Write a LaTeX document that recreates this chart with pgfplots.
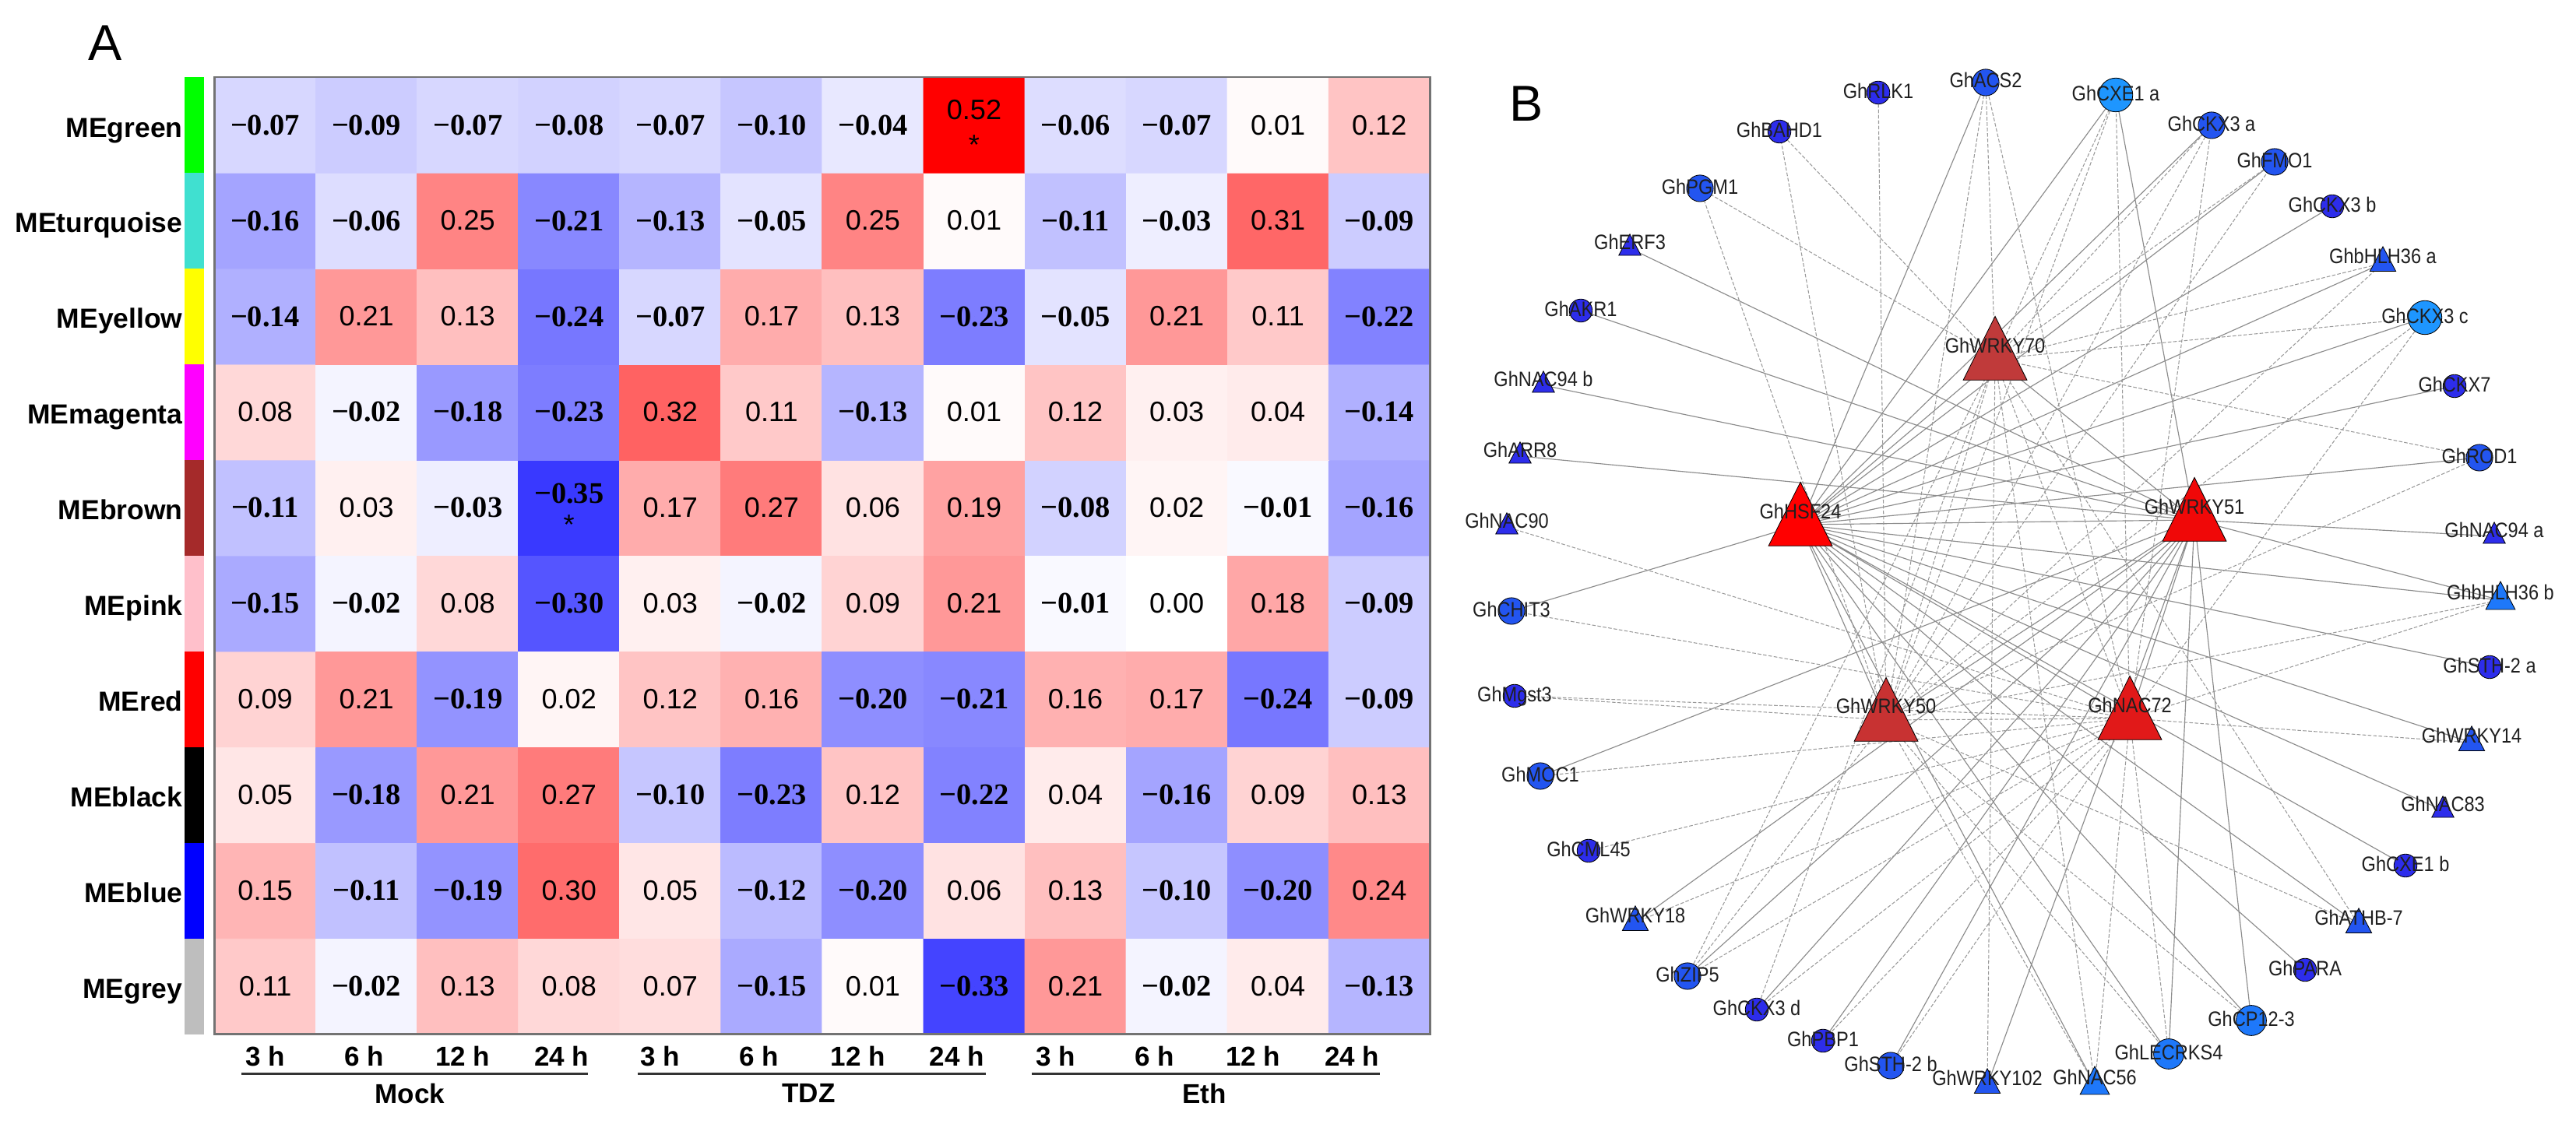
\documentclass[border=0pt]{standalone}
\usepackage{fontspec}
\usepackage{pgfplots}
\usepackage{pgfplotstable}
\pgfplotsset{compat=1.18}
\setmainfont{Liberation Sans}
\newfontfamily\arial{Liberation Sans}
\newfontfamily\tnr{Liberation Serif}
\newfontfamily\netf{Liberation Sans}[FakeStretch=0.88]
\newcommand\posfont{\arial\fontsize{17.1}{17.1}\selectfont}
\newcommand\negfont{\tnr\bfseries\fontsize{18.2}{18.2}\selectfont}
\newcommand\rowfont{\arial\bfseries\fontsize{16.8}{16.8}\selectfont}
\newcommand\tickfont{\arial\bfseries\fontsize{16.6}{16.6}\selectfont}
\newcommand\netfont{\netf\fontsize{12.7}{12.7}\selectfont}
\newcommand\panelfont{\arial\fontsize{30.7}{30.7}\selectfont}
\definecolor{meGreen}{RGB}{0,255,0}
\definecolor{meTurq}{RGB}{64,224,208}
\definecolor{meYellow}{RGB}{255,255,0}
\definecolor{meMagenta}{RGB}{255,0,255}
\definecolor{meBrown}{RGB}{165,42,42}
\definecolor{mePink}{RGB}{255,192,203}
\definecolor{meRed}{RGB}{255,0,0}
\definecolor{meBlack}{RGB}{0,0,0}
\definecolor{meBlue}{RGB}{0,0,255}
\definecolor{meGrey}{RGB}{190,190,190}
\definecolor{cDark}{RGB}{45,45,235}
\definecolor{cMed}{RGB}{35,85,240}
\definecolor{cLight}{RGB}{30,150,255}
\definecolor{cLM}{RGB}{30,120,250}
\definecolor{hHSF}{RGB}{255,0,0}
\definecolor{hW70}{RGB}{192,58,58}
\definecolor{hW51}{RGB}{240,8,8}
\definecolor{hW50}{RGB}{200,50,50}
\definecolor{hN72}{RGB}{225,25,25}

\pgfplotstableread{
x y v ng s st
0 0 0.11 0 0.11 0
1 0 -0.02 1 0.02 0
2 0 0.13 0 0.13 0
3 0 0.08 0 0.08 0
4 0 0.07 0 0.07 0
5 0 -0.15 1 0.15 0
6 0 0.01 0 0.01 0
7 0 -0.33 1 0.33 0
8 0 0.21 0 0.21 0
9 0 -0.02 1 0.02 0
10 0 0.04 0 0.04 0
11 0 -0.13 1 0.13 0
0 1 0.15 0 0.15 0
1 1 -0.11 1 0.11 0
2 1 -0.19 1 0.19 0
3 1 0.30 0 0.30 0
4 1 0.05 0 0.05 0
5 1 -0.12 1 0.12 0
6 1 -0.20 1 0.20 0
7 1 0.06 0 0.06 0
8 1 0.13 0 0.13 0
9 1 -0.10 1 0.10 0
10 1 -0.20 1 0.20 0
11 1 0.24 0 0.24 0
0 2 0.05 0 0.05 0
1 2 -0.18 1 0.18 0
2 2 0.21 0 0.21 0
3 2 0.27 0 0.27 0
4 2 -0.10 1 0.10 0
5 2 -0.23 1 0.23 0
6 2 0.12 0 0.12 0
7 2 -0.22 1 0.22 0
8 2 0.04 0 0.04 0
9 2 -0.16 1 0.16 0
10 2 0.09 0 0.09 0
11 2 0.13 0 0.13 0
0 3 0.09 0 0.09 0
1 3 0.21 0 0.21 0
2 3 -0.19 1 0.19 0
3 3 0.02 0 0.02 0
4 3 0.12 0 0.12 0
5 3 0.16 0 0.16 0
6 3 -0.20 1 0.20 0
7 3 -0.21 1 0.21 0
8 3 0.16 0 0.16 0
9 3 0.17 0 0.17 0
10 3 -0.24 1 0.24 0
11 3 -0.09 1 0.09 0
0 4 -0.15 1 0.15 0
1 4 -0.02 1 0.02 0
2 4 0.08 0 0.08 0
3 4 -0.30 1 0.30 0
4 4 0.03 0 0.03 0
5 4 -0.02 1 0.02 0
6 4 0.09 0 0.09 0
7 4 0.21 0 0.21 0
8 4 -0.01 1 0.01 0
9 4 0.00 0 0.00 0
10 4 0.18 0 0.18 0
11 4 -0.09 1 0.09 0
0 5 -0.11 1 0.11 0
1 5 0.03 0 0.03 0
2 5 -0.03 1 0.03 0
3 5 -0.35 1 0.35 1
4 5 0.17 0 0.17 0
5 5 0.27 0 0.27 0
6 5 0.06 0 0.06 0
7 5 0.19 0 0.19 0
8 5 -0.08 1 0.08 0
9 5 0.02 0 0.02 0
10 5 -0.01 1 0.01 0
11 5 -0.16 1 0.16 0
0 6 0.08 0 0.08 0
1 6 -0.02 1 0.02 0
2 6 -0.18 1 0.18 0
3 6 -0.23 1 0.23 0
4 6 0.32 0 0.32 0
5 6 0.11 0 0.11 0
6 6 -0.13 1 0.13 0
7 6 0.01 0 0.01 0
8 6 0.12 0 0.12 0
9 6 0.03 0 0.03 0
10 6 0.04 0 0.04 0
11 6 -0.14 1 0.14 0
0 7 -0.14 1 0.14 0
1 7 0.21 0 0.21 0
2 7 0.13 0 0.13 0
3 7 -0.24 1 0.24 0
4 7 -0.07 1 0.07 0
5 7 0.17 0 0.17 0
6 7 0.13 0 0.13 0
7 7 -0.23 1 0.23 0
8 7 -0.05 1 0.05 0
9 7 0.21 0 0.21 0
10 7 0.11 0 0.11 0
11 7 -0.22 1 0.22 0
0 8 -0.16 1 0.16 0
1 8 -0.06 1 0.06 0
2 8 0.25 0 0.25 0
3 8 -0.21 1 0.21 0
4 8 -0.13 1 0.13 0
5 8 -0.05 1 0.05 0
6 8 0.25 0 0.25 0
7 8 0.01 0 0.01 0
8 8 -0.11 1 0.11 0
9 8 -0.03 1 0.03 0
10 8 0.31 0 0.31 0
11 8 -0.09 1 0.09 0
0 9 -0.07 1 0.07 0
1 9 -0.09 1 0.09 0
2 9 -0.07 1 0.07 0
3 9 -0.08 1 0.08 0
4 9 -0.07 1 0.07 0
5 9 -0.10 1 0.10 0
6 9 -0.04 1 0.04 0
7 9 0.52 0 0.52 1
8 9 -0.06 1 0.06 0
9 9 -0.07 1 0.07 0
10 9 0.01 0 0.01 0
11 9 0.12 0 0.12 0
}\hm

\pgfplotstableread{
x y ng s
7 9.16 0 0.52
7 8.79 0 *
3 5.15 1 0.35
3 4.82 0 *
}\hmstar

\pgfplotstableread[col sep=comma]{
x,y,name
2412,1327,GhRLK1
2550,1341,GhACS2
2717,1324,GhCXE1 a
2285,1277,GhBAHD1
2840,1285,GhCKX3 a
2921,1238,GhFMO1
2183,1204,GhPGM1
2995,1181,GhCKX3 b
2093,1133,GhERF3
3060,1115,GhbHLH36 a
2030,1047,GhAKR1
3114,1038,GhCKX3 c
1982,957,GhNAC94 b
3152,950,GhCKX7
1952,866,GhARR8
3184,858,GhROD1
1935,775,GhNAC90
3203,763,GhNAC94 a
3211,683,GhbHLH36 b
1941,661,GhCHIT3
3197,589,GhSTH-2 a
1945,552,GhMgst3
3174,499,GhWRKY14
1978,449,GhMOC1
3137,411,GhNAC83
2040,353,GhCML45
3089,334,GhCXE1 b
2100,268,GhWRKY18
3029,265,GhATHB-7
2960,200,GhPARA
2167,192,GhZIP5
2256,149,GhCKX3 d
2891,135,GhCP12-3
2341,109,GhPBP1
2785,92,GhLECRKS4
2428,77,GhSTH-2 b
2552,59,GhWRKY102
2690,60,GhNAC56
2312,787,GhHSF24
2562,1000,GhWRKY70
2818,793,GhWRKY51
2422,537,GhWRKY50
2735,538,GhNAC72
}\netlab

\pgfplotsset{hmlab/.style={only marks, mark=*, mark size=0pt, mark options={draw=none,fill=none},
  point meta=explicit symbolic,
  every node near coord/.append style={anchor=center, inner sep=0pt, text=black}}}

\begin{document}
\begin{tikzpicture}
\begin{axis}[at={(130.6pt,54.66pt)}, anchor=south west, scale only axis,
  width=739.8pt, height=582.8pt,
  xmin=-0.5, xmax=11.5, ymin=-0.5, ymax=9.5, clip=false, axis on top,
  axis line style={draw=black!55, line width=1.2pt},
  xtick={0,0.976,1.951,2.927,3.902,4.878,5.853,6.829,7.804,8.780,9.755,10.731},
  xticklabels={3 h,6 h,12 h,24 h,3 h,6 h,12 h,24 h,3 h,6 h,12 h,24 h},
  ytick={0,1,2,3,4,5,6,7,8,9},
  yticklabels={MEgrey,MEblue,MEblack,MEred,MEpink,MEbrown,MEmagenta,MEyellow,MEturquoise,MEgreen},
  major tick length=0pt, tick style={draw=none},
  xticklabel style={font=\tickfont, anchor=base, inner sep=0pt, yshift=-19.2pt},
  yticklabel style={font=\rowfont, anchor=base east, inner sep=0pt, xshift=-19.3pt, yshift=-7.3pt},
  colormap={bwr}{rgb255(0cm)=(0,0,255) rgb255(45cm)=(255,255,255) rgb255(97cm)=(255,0,0)},
  point meta min=-0.45, point meta max=0.52]
\addplot[matrix plot*, mesh/cols=12, point meta=explicit] table[x=x,y=y,meta=v] {\hm};
\addplot[hmlab, nodes near coords={\negfont −\pgfplotspointmeta},
  restrict expr to domain={\thisrow{ng}+2*\thisrow{st}}{0.5:1.5}] table[x=x,y=y,meta=s] {\hm};
\addplot[hmlab, nodes near coords={\posfont\pgfplotspointmeta},
  restrict expr to domain={\thisrow{ng}+2*\thisrow{st}}{-0.5:0.5}] table[x=x,y=y,meta=s] {\hm};
\addplot[hmlab, nodes near coords={\negfont −\pgfplotspointmeta},
  restrict expr to domain={\thisrow{ng}}{0.5:1.5}] table[x=x,y=y,meta=s] {\hmstar};
\addplot[hmlab, nodes near coords={\posfont\pgfplotspointmeta},
  restrict expr to domain={\thisrow{ng}}{-0.5:0.5}] table[x=x,y=y,meta=s] {\hmstar};
% colour strip
\addplot[fill=meGrey, draw=none] coordinates {(-0.794,-0.5) (-0.605,-0.5) (-0.605,0.5) (-0.794,0.5)};
\addplot[fill=meBlue, draw=none] coordinates {(-0.794,0.5) (-0.605,0.5) (-0.605,1.5) (-0.794,1.5)};
\addplot[fill=meBlack, draw=none] coordinates {(-0.794,1.5) (-0.605,1.5) (-0.605,2.5) (-0.794,2.5)};
\addplot[fill=meRed, draw=none] coordinates {(-0.794,2.5) (-0.605,2.5) (-0.605,3.5) (-0.794,3.5)};
\addplot[fill=mePink, draw=none] coordinates {(-0.794,3.5) (-0.605,3.5) (-0.605,4.5) (-0.794,4.5)};
\addplot[fill=meBrown, draw=none] coordinates {(-0.794,4.5) (-0.605,4.5) (-0.605,5.5) (-0.794,5.5)};
\addplot[fill=meMagenta, draw=none] coordinates {(-0.794,5.5) (-0.605,5.5) (-0.605,6.5) (-0.794,6.5)};
\addplot[fill=meYellow, draw=none] coordinates {(-0.794,6.5) (-0.605,6.5) (-0.605,7.5) (-0.794,7.5)};
\addplot[fill=meTurq, draw=none] coordinates {(-0.794,7.5) (-0.605,7.5) (-0.605,8.5) (-0.794,8.5)};
\addplot[fill=meGreen, draw=none] coordinates {(-0.794,8.5) (-0.605,8.5) (-0.605,9.5) (-0.794,9.5)};
% group underlines
\addplot[draw=black!80, line width=1.4pt] coordinates {(-0.234,-0.91) (3.189,-0.91)};
\addplot[draw=black!80, line width=1.4pt] coordinates {(3.675,-0.91) (7.114,-0.91)};
\addplot[draw=black!80, line width=1.4pt] coordinates {(7.568,-0.91) (11.005,-0.91)};
\node[font=\tickfont, inner sep=0pt] at (axis cs:1.429,-1.118) {Mock};
\node[font=\tickfont, inner sep=0pt] at (axis cs:5.367,-1.118) {TDZ};
\node[font=\tickfont, inner sep=0pt] at (axis cs:9.273,-1.118) {Eth};
\end{axis}

\begin{axis}[at={(876.9pt,0pt)}, anchor=south west, scale only axis,
  width=691.1pt, height=684.46pt,
  xmin=1850, xmax=3308, ymin=0, ymax=1444, hide axis, clip=false, unbounded coords=jump]
% solid edges (GhHSF24, GhWRKY51)
\addplot[draw=black!45, line width=0.55pt] coordinates {
(2312,770) (2550,1338) (0,nan) (2312,770) (2717,1322) (0,nan) (2312,770) (2840,1283) (0,nan)
(2312,770) (2921,1236) (0,nan) (2312,770) (2995,1179) (0,nan) (2312,770) (3060,1106) (0,nan)
(2312,770) (3114,1036) (0,nan) (2312,770) (3152,948) (0,nan) (2312,770) (3184,856) (0,nan)
(2312,770) (3211,673) (0,nan) (2312,770) (3197,587) (0,nan) (2312,770) (3174,490) (0,nan)
(2312,770) (3137,403) (0,nan) (2312,770) (3089,332) (0,nan) (2312,770) (3029,256) (0,nan)
(2312,770) (2960,198) (0,nan) (2312,770) (2891,133) (0,nan) (2312,770) (2785,90) (0,nan)
(2312,770) (2690,50) (0,nan) (2312,770) (1941,659) (0,nan) (2312,770) (2818,776) (0,nan)
(2312,770) (2422,519) (0,nan) (2312,770) (2735,521) (0,nan) (2312,770) (2562,983) (0,nan)
(2818,776) (2093,1125) (0,nan) (2818,776) (2030,1045) (0,nan) (2818,776) (1982,949) (0,nan)
(2818,776) (1952,858) (0,nan) (2818,776) (1978,447) (0,nan) (2818,776) (2100,259) (0,nan)
(2818,776) (2167,190) (0,nan) (2818,776) (2256,147) (0,nan) (2818,776) (2428,75) (0,nan)
(2818,776) (2341,107) (0,nan) (2818,776) (2552,50) (0,nan) (2818,776) (2717,1322) (0,nan)
(2818,776) (2891,133) (0,nan) (2818,776) (3203,755) (0,nan) (2818,776) (2785,90) (0,nan)
(2818,776) (3211,673) (0,nan) (2818,776) (2422,519) (0,nan) (2818,776) (2735,521) (0,nan)
(2818,776) (2562,983)
};
% dashed edges (GhWRKY70, GhWRKY50, GhNAC72)
\addplot[draw=black!40, line width=0.5pt, dash pattern=on 2.2pt off 1.1pt] coordinates {
(2562,983) (2550,1338) (0,nan) (2562,983) (2285,1275) (0,nan) (2562,983) (2183,1202) (0,nan)
(2562,983) (2717,1322) (0,nan) (2562,983) (2840,1283) (0,nan) (2562,983) (2921,1236) (0,nan)
(2562,983) (3060,1106) (0,nan) (2562,983) (3114,1036) (0,nan) (2562,983) (3184,856) (0,nan)
(2562,983) (2167,190) (0,nan) (2562,983) (2552,50) (0,nan) (2562,983) (3029,256) (0,nan)
(2562,983) (2690,50) (0,nan) (2562,983) (2256,147) (0,nan) (2562,983) (2422,519) (0,nan)
(2562,983) (2735,521) (0,nan)
(2422,519) (2412,1325) (0,nan) (2422,519) (2285,1275) (0,nan) (2422,519) (2550,1338) (0,nan)
(2422,519) (2717,1322) (0,nan) (2422,519) (2840,1283) (0,nan) (2422,519) (2921,1236) (0,nan)
(2422,519) (3060,1106) (0,nan) (2422,519) (3114,1036) (0,nan) (2422,519) (3184,856) (0,nan)
(2422,519) (2167,190) (0,nan) (2422,519) (2785,90) (0,nan) (2422,519) (2690,50) (0,nan)
(2422,519) (2891,133) (0,nan) (2422,519) (3029,256) (0,nan) (2422,519) (3211,673) (0,nan)
(2422,519) (2183,1202) (0,nan) (2422,519) (1945,550) (0,nan) (2422,519) (2735,521) (0,nan)
(2735,521) (1935,767) (0,nan) (2735,521) (1941,659) (0,nan) (2735,521) (1945,550) (0,nan)
(2735,521) (1978,447) (0,nan) (2735,521) (2040,351) (0,nan) (2735,521) (2100,259) (0,nan)
(2735,521) (2256,147) (0,nan) (2735,521) (2341,107) (0,nan) (2735,521) (2428,75) (0,nan)
(2735,521) (2167,190) (0,nan) (2735,521) (2690,50) (0,nan) (2735,521) (2785,90) (0,nan)
(2735,521) (3174,490) (0,nan) (2735,521) (3211,673) (0,nan) (2735,521) (3114,1036) (0,nan)
(2735,521) (2717,1322) (0,nan) (2735,521) (2840,1283) (0,nan) (2735,521) (2550,1338)
};
% circle nodes
\addplot[only marks, mark=*, mark size=7.0pt, mark options={draw=none, fill=cDark}] coordinates {
(2412,1325) (2995,1179) (2030,1045) (3152,948) (1945,550) (3197,587) (2040,351) (3089,332)
(2960,198) (2341,107) (2256,147) (2285,1275)};
\addplot[only marks, mark=*, mark size=8.1pt, mark options={draw=none, fill=cMed}] coordinates {
(2550,1338) (2840,1283) (2921,1236) (2183,1202) (3184,856) (1941,659) (1978,447) (2167,190) (2428,75)};
\addplot[only marks, mark=*, mark size=10.3pt, mark options={draw=none, fill=cLight}] coordinates {
(2717,1322) (3114,1036)};
\addplot[only marks, mark=*, mark size=9.2pt, mark options={draw=none, fill=cLM}] coordinates {
(2891,133) (2785,90)};
% triangle nodes
\addplot[only marks, mark=triangle*, mark size=7.8pt, mark options={draw=none, fill=cDark, yscale=1.1}] coordinates {
(2093,1125) (1982,949) (1952,858) (1935,767) (3203,755) (3137,403)};
\addplot[only marks, mark=triangle*, mark size=9.1pt, mark options={draw=none, fill=cMed, yscale=1.1}] coordinates {
(3060,1106) (3174,490) (3029,256) (2100,259) (2552,50)};
\addplot[only marks, mark=triangle*, mark size=10.3pt, mark options={draw=none, fill=cLM, yscale=1.1}] coordinates {
(3211,673) (2690,50)};
% hub nodes
\addplot[only marks, mark=triangle*, mark size=22.4pt, mark options={draw=none, fill=hHSF, yscale=1.155}] coordinates {(2312,770)};
\addplot[only marks, mark=triangle*, mark size=22.4pt, mark options={draw=none, fill=hW70, yscale=1.155}] coordinates {(2562,983)};
\addplot[only marks, mark=triangle*, mark size=22.4pt, mark options={draw=none, fill=hW51, yscale=1.155}] coordinates {(2818,776)};
\addplot[only marks, mark=triangle*, mark size=22.4pt, mark options={draw=none, fill=hW50, yscale=1.155}] coordinates {(2422,519)};
\addplot[only marks, mark=triangle*, mark size=22.4pt, mark options={draw=none, fill=hN72, yscale=1.155}] coordinates {(2735,521)};
% labels
\addplot[only marks, mark=*, mark size=0pt, mark options={draw=none,fill=none},
  point meta=explicit symbolic, nodes near coords,
  every node near coord/.append style={anchor=base, yshift=-4.5pt, inner sep=0pt, font=\netfont, text=black!88}]
  table[x=x,y=y,meta=name] {\netlab};
\end{axis}
\node[font=\panelfont, inner sep=0pt] at (64pt,658.5pt) {A};
\node[font=\panelfont, inner sep=0pt] at (929pt,621.5pt) {B};
\pgfresetboundingbox
\path[use as bounding box] (0,0) rectangle (1568pt,684.46pt);
\end{tikzpicture}
\end{document}
